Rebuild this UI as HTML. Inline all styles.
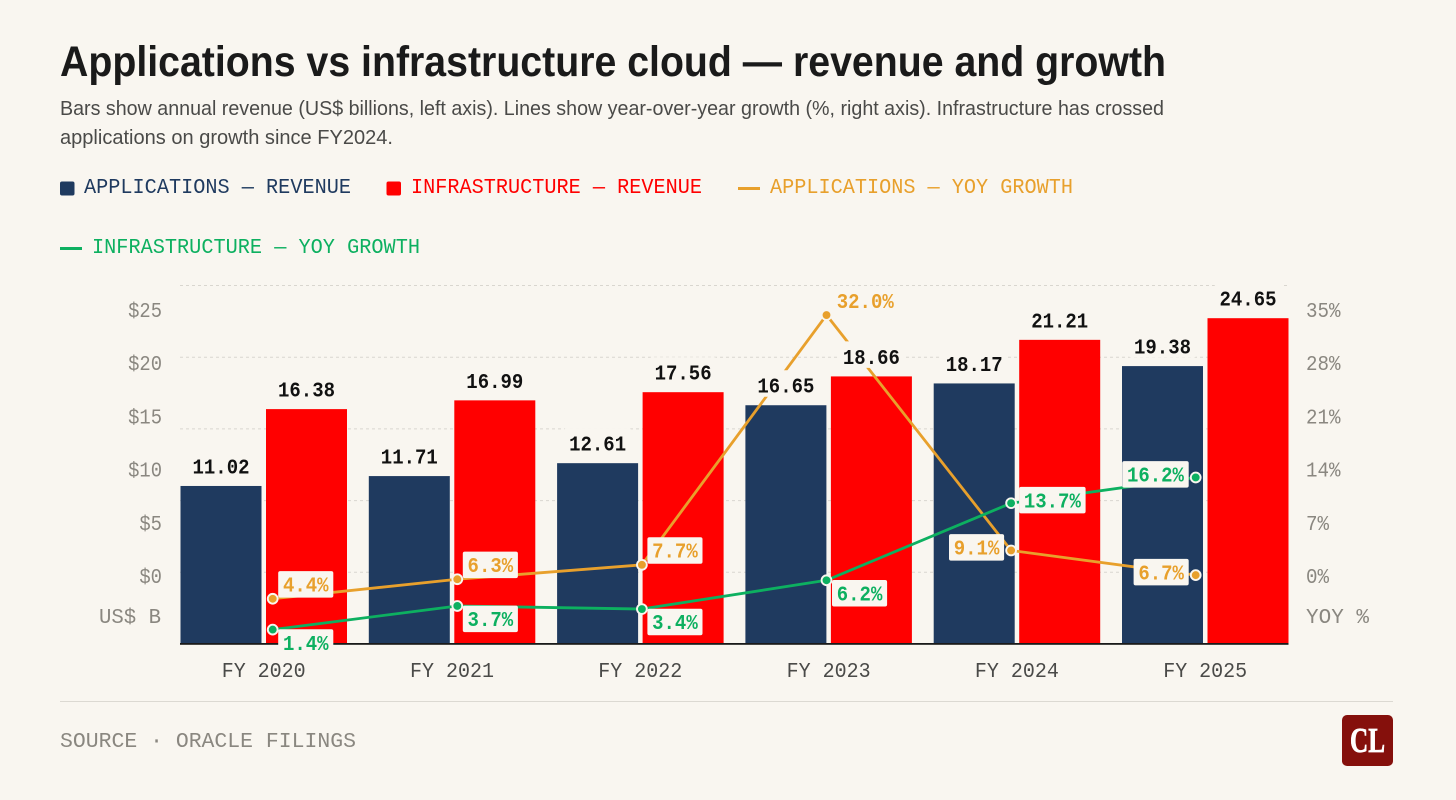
<!DOCTYPE html>
<html lang="en">
<head>
<meta charset="utf-8">
<title>Applications vs infrastructure cloud</title>
<style>
html,body{margin:0;padding:0;background:#f9f6f0;}
svg{display:block;}
text{font-family:"Liberation Mono",monospace;}
.sans{font-family:"Liberation Sans",sans-serif;}
.serif{font-family:"Liberation Serif",serif;}
</style>
</head>
<body>
<svg id="chart" xmlns="http://www.w3.org/2000/svg" width="1456" height="800" viewBox="0 0 1456 800">
  <rect x="0" y="0" width="1456" height="800" fill="#f9f6f0"/>
  <text class="sans" x="60" y="76" font-size="43" font-weight="700" fill="#1a1a1a" textLength="1106" lengthAdjust="spacingAndGlyphs">Applications vs infrastructure cloud — revenue and growth</text>
  <text class="sans" x="60" y="115" font-size="20.5" fill="#4a4a48" textLength="1104" lengthAdjust="spacingAndGlyphs">Bars show annual revenue (US$ billions, left axis). Lines show year-over-year growth (%, right axis). Infrastructure has crossed</text>
  <text class="sans" x="60" y="144" font-size="20.5" fill="#4a4a48" textLength="333" lengthAdjust="spacingAndGlyphs">applications on growth since FY2024.</text>

  <g>
    <g>
      <rect x="60" y="181.5" width="14.5" height="14" rx="2" fill="#1f3a5f"/>
      <text x="84" y="193" font-size="21" fill="#1f3a5f" textLength="267" lengthAdjust="spacingAndGlyphs">APPLICATIONS — REVENUE</text>
    </g>
    <g>
      <rect x="386.5" y="181.5" width="14.5" height="14" rx="2" fill="#ff0000"/>
      <text x="411" y="193" font-size="21" fill="#ff0000" textLength="291" lengthAdjust="spacingAndGlyphs">INFRASTRUCTURE — REVENUE</text>
    </g>
    <g>
      <rect x="738" y="187" width="22" height="3" fill="#e8a02c"/>
      <text x="770" y="193" font-size="21" fill="#e8a02c" textLength="303" lengthAdjust="spacingAndGlyphs">APPLICATIONS — YOY GROWTH</text>
    </g>
    <g>
      <rect x="60" y="247" width="22" height="3" fill="#0db060"/>
      <text x="92" y="253" font-size="21" fill="#0db060" textLength="328" lengthAdjust="spacingAndGlyphs">INFRASTRUCTURE — YOY GROWTH</text>
    </g>
  </g>

  <g id="plot"></g>

  <rect x="60" y="701" width="1333" height="1" fill="#dcd9d2"/>
  <text x="60" y="747" font-size="21" fill="#8a8780" textLength="296" lengthAdjust="spacingAndGlyphs">SOURCE · ORACLE FILINGS</text>
  <g>
    <rect x="1342" y="715" width="51" height="51" rx="5" fill="#85100c"/>
    <text class="serif" x="1350" y="752" font-size="35" font-weight="700" fill="#ffffff" stroke="#ffffff" stroke-width="0.7" textLength="35" lengthAdjust="spacingAndGlyphs">CL</text>
  </g>
</svg>

<script>
const categories = ['FY 2020', 'FY 2021', 'FY 2022', 'FY 2023', 'FY 2024', 'FY 2025'];
const applicationsRevenue = [11.02, 11.71, 12.61, 16.65, 18.17, 19.38];
const infrastructureRevenue = [16.38, 16.99, 17.56, 18.66, 21.21, 22.72];
const applicationsRevenuePrinted = ['11.02', '11.71', '12.61', '16.65', '18.17', '19.38'];
const infrastructureRevenuePrinted = ['16.38', '16.99', '17.56', '18.66', '21.21', '24.65'];
const applicationsGrowth = [4.4, 6.3, 7.7, 32.0, 9.1, 6.7];
const infrastructureGrowth = [1.4, 3.7, 3.4, 6.2, 13.7, 16.2];
const applicationsLabelSide = ['upper', 'upper', 'upper', 'upper', 'left', 'left'];
const infrastructureLabelSide = ['lower', 'lower', 'lower', 'lower', 'right', 'left'];
const gridTicks = [0, 5, 10, 15, 20, 25];
const leftTicks = [25, 20, 15, 10, 5, 0];
const rightTicks = [35, 28, 21, 14, 7, 0];

const NAVY = '#1f3a5f', RED = '#ff0000', ORANGE = '#e8a02c', GREEN = '#0db060', PAPER = '#f9f6f0';
const NS = 'http://www.w3.org/2000/svg';
const plot = document.getElementById('plot');

function make(tag, attrs, parent, content) {
  const node = document.createElementNS(NS, tag);
  for (const key in attrs) node.setAttribute(key, attrs[key]);
  if (content !== undefined) node.textContent = content;
  (parent || plot).appendChild(node);
  return node;
}

/* axis functions */
function yRevenue(v) { return 644 - v * 14.34; }
function yGrowth(v) { return 644 - v * 10.28; }
function xAppBar(i) { return 180.5 + i * 188.3; }
function xInfraBar(i) { return 266 + i * 188.3; }
function xGroupCenter(i) { return 263.7 + i * 188.3; }
function xPoint(i) { return 272.7 + i * 184.6; }
function yLeftTick(v) { return 583 - v * 10.64; }
function yRightTick(v) { return 583 - v * 7.6; }
const BAR_W = 81;

/* gridlines */
gridTicks.forEach(function (t) {
  const line = make('line', { x1: 180, x2: 1288, y1: yRevenue(t), y2: yRevenue(t), stroke: '#d9d6cf', 'stroke-width': 1, 'stroke-dasharray': '3 3' });
  
  
});

/* axis tick labels */
leftTicks.forEach(function (t) {
  const s = '$' + t;
  const label = make('text', { x: 162, y: yLeftTick(t), 'text-anchor': 'end', 'font-size': 21, fill: '#8a8780', textLength: s.length * 11.3, lengthAdjust: 'spacingAndGlyphs' }, plot, s);
  
  
});
rightTicks.forEach(function (t) {
  const s = t + '%';
  const label = make('text', { x: 1306, y: yRightTick(t), 'font-size': 21, fill: '#8a8780', textLength: s.length * 11.5, lengthAdjust: 'spacingAndGlyphs' }, plot, s);
  
  
});
const leftTitle = make('text', { x: 99, y: 623, 'font-size': 21, fill: '#8a8780', textLength: 62, lengthAdjust: 'spacingAndGlyphs' }, plot, 'US$ B');


const rightTitle = make('text', { x: 1306, y: 623, 'font-size': 21, fill: '#8a8780', textLength: 63, lengthAdjust: 'spacingAndGlyphs' }, plot, 'YOY %');



/* bars */
categories.forEach(function (c, i) {
  const a = make('rect', { x: xAppBar(i), y: yRevenue(applicationsRevenue[i]), width: BAR_W, height: 644 - yRevenue(applicationsRevenue[i]), fill: NAVY });
  
  
  const b = make('rect', { x: xInfraBar(i), y: yRevenue(infrastructureRevenue[i]), width: BAR_W, height: 644 - yRevenue(infrastructureRevenue[i]), fill: RED });
  
  
});

/* x axis */
const axisLine = make('rect', { x: 180, y: 643, width: 1108.5, height: 1.8, fill: '#1a1a1a' });


categories.forEach(function (c, i) {
  const label = make('text', { x: xGroupCenter(i), y: 677, 'text-anchor': 'middle', 'font-size': 21, fill: '#4a4a48', textLength: 84, lengthAdjust: 'spacingAndGlyphs' }, plot, c);
  
  
});

/* growth lines */
function linePoints(values) {
  return values.map(function (v, i) { return xPoint(i) + ',' + yGrowth(v); }).join(' ');
}
const appLine = make('polyline', { points: linePoints(applicationsGrowth), fill: 'none', stroke: ORANGE, 'stroke-width': 2.8, 'stroke-linejoin': 'round' });


const infraLine = make('polyline', { points: linePoints(infrastructureGrowth), fill: 'none', stroke: GREEN, 'stroke-width': 2.8, 'stroke-linejoin': 'round' });



/* revenue value labels with paper backing */
function barLabel(text, cx, top) {
  const w = text.length * 11.4 + 9.5;
  const bg = make('rect', { x: cx - w / 2, y: top - 35, width: w, height: 26.5, rx: 2, fill: PAPER });
  
  
  const t = make('text', { x: cx, y: top - 12.5, 'text-anchor': 'middle', 'font-size': 21, 'font-weight': 700, fill: '#111111', textLength: text.length * 11.4, lengthAdjust: 'spacingAndGlyphs' }, plot, text);
  
  
}
categories.forEach(function (c, i) {
  barLabel(applicationsRevenuePrinted[i], xAppBar(i) + BAR_W / 2, yRevenue(applicationsRevenue[i]));
  barLabel(infrastructureRevenuePrinted[i], xInfraBar(i) + BAR_W / 2, yRevenue(infrastructureRevenue[i]));
});

/* points */
function drawPoints(values, color, name) {
  values.forEach(function (v, i) {
    const p = make('circle', { cx: xPoint(i), cy: yGrowth(v), r: 4.9, fill: color, stroke: PAPER, 'stroke-width': 1.9 });
    
    
  });
}
drawPoints(applicationsGrowth, ORANGE, 'point-applications-growth');
drawPoints(infrastructureGrowth, GREEN, 'point-infrastructure-growth');

/* growth labels */
function growthLabel(v, i, side, color) {
  const text = v.toFixed(1) + '%';
  const w = text.length * 11.4 + 9.5;
  const px = xPoint(i), py = yGrowth(v);
  let x, cy;
  if (side === 'upper') { x = px + 5.5; cy = py - 14.3; }
  else if (side === 'lower') { x = px + 5.5; cy = py + 13; }
  else if (side === 'right') { x = px + 8; cy = py - 3; }
  else { x = px - 7 - w; cy = py - 3; }
  const bg = make('rect', { x: x, y: cy - 13.3, width: w, height: 26.5, rx: 2, fill: PAPER });
  
  
  const t = make('text', { x: x + w / 2, y: cy + 7.2, 'text-anchor': 'middle', 'font-size': 21, 'font-weight': 700, fill: color, textLength: text.length * 11.4, lengthAdjust: 'spacingAndGlyphs' }, plot, text);
  
  
}
applicationsGrowth.forEach(function (v, i) { growthLabel(v, i, applicationsLabelSide[i], ORANGE); });
infrastructureGrowth.forEach(function (v, i) { growthLabel(v, i, infrastructureLabelSide[i], GREEN); });
</script>
</body>
</html>
